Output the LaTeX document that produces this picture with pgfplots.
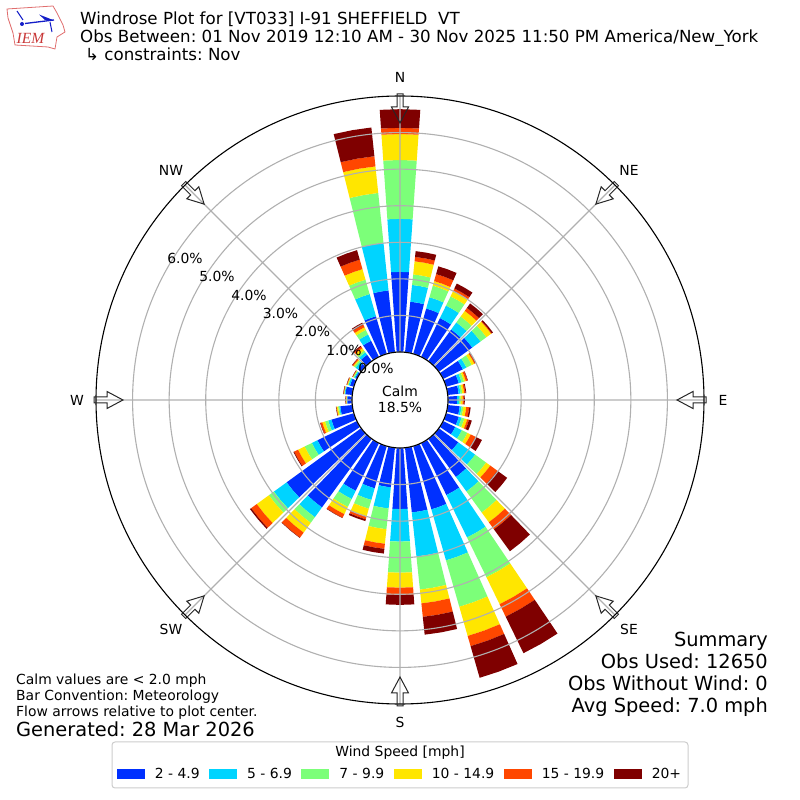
\documentclass[border=0pt]{standalone}
\usepackage{pgfplots}
\pgfplotsset{compat=1.18}
\usepgfplotslibrary{polar}
\usepackage{fontspec}
\setmainfont{DejaVu Sans}
\newfontfamily\logofont{Liberation Serif}
\frenchspacing
\definecolor{wa}{RGB}{0,48,255}
\definecolor{wb}{RGB}{0,212,255}
\definecolor{wc}{RGB}{124,255,121}
\definecolor{wd}{RGB}{255,230,0}
\definecolor{we}{RGB}{255,71,0}
\definecolor{wf}{RGB}{127,0,0}
\definecolor{gridc}{RGB}{176,176,176}
\definecolor{logored}{RGB}{224,110,110}
\definecolor{logoblue}{RGB}{20,30,200}
\newcommand\fs[1]{\fontsize{#1}{#1}\selectfont}
% direction / percent in each of the six speed classes
\def\rosedata{%
0/2.19/1.45/1.61/.71/.17/.51,
10/1.39/.46/.29/.36/.12/.16,
20/1.29/.32/.33/.13/.20/.22,
30/1.18/.38/.28/.17/.07/.15,
40/1.07/.24/.20/.19/.10/.15,
50/1.13/.28/.20/.16/.02/.04,
60/.60/.11/.16/.08/.03/.01,
70/.36/.08/.07/.05/.05/.01,
80/.30/.05/.05/.05/.04/.02,
90/.25/.05/.05/.05/.04/.02,
100/.33/.05/.05/.08/.08/.04,
110/.36/.08/.08/.08/.05/.08,
120/.37/.20/.17/.10/.15/.19,
130/.66/.57/.37/.14/.24/.33,
140/1.29/.49/.71/.33/.24/.74,
150/1.58/1.29/1.21/.82/.38/1.11,
160/1.80/1.45/1.32/.83/.29/.90,
170/1.78/1.21/.91/.38/.37/.49,
180/1.67/.89/.85/.41/.20/.27,
190/1.09/.58/.57/.40/.14/.13,
200/1.20/.33/.25/.22/.08/.05,
210/1.45/.25/.24/.22/.11/.01,
220/2.32/.33/.19/.33/.17/.01,
230/2.52/.43/.17/.41/.19/.04,
240/1.20/.17/.22/.20/.12/.02,
250/.64/.09/.09/.08/.05/.01,
260/.33/.03/.03/.04/.01/.01,
270/.13/.01/.01/.01/.01/.01,
280/.19/.02/.01/.01/.01/.01,
290/.11/.04/.02/.02/.01/.01,
300/.05/.03/.03/.01/.01/.01,
310/.11/.08/.05/.03/.03/.01,
320/.22/.08/.06/.08/.05/.03,
330/.49/.19/.14/.08/.08/.06,
340/1.07/.63/.41/.30/.27/.27,
350/1.70/1.31/1.37/.73/.28/.79}
\def\rbase{1.3125}
\gdef\serA{}\gdef\serB{}\gdef\serC{}\gdef\serD{}\gdef\serE{}\gdef\serF{}
% append one wedge: #1 series macro, #2 inner radius, #3 outer radius
\newcommand\addwedge[3]{%
  \xdef#1{#1(\al,#2)(\am,#2)(\ar,#2)(\ar,#3)(\am,#3)(\al,#3)(\al,#2)(\ar,nan)}}
\foreach \dd/\va/\vb/\vc/\vd/\ve/\vf in \rosedata {%
  \pgfmathsetmacro\am{90-\dd+360}%
  \pgfmathsetmacro\al{\am-4}%
  \pgfmathsetmacro\ar{\am+4}%
  \pgfmathsetmacro\ra{\rbase+\va}%
  \pgfmathsetmacro\rb{\ra+\vb}%
  \pgfmathsetmacro\rc{\rb+\vc}%
  \pgfmathsetmacro\rd{\rc+\vd}%
  \pgfmathsetmacro\re{\rd+\ve}%
  \pgfmathsetmacro\rf{\re+\vf}%
  \addwedge\serA{\rbase}{\ra}%
  \addwedge\serB{\ra}{\rb}%
  \addwedge\serC{\rb}{\rc}%
  \addwedge\serD{\rc}{\rd}%
  \addwedge\serE{\rd}{\re}%
  \addwedge\serF{\re}{\rf}%
}
\newcommand\plotser[3]{%
  \edef\tmpplot{\noexpand\addplot[draw=none,fill=#1] coordinates {#2};}\tmpplot
  \addlegendentry{#3}}
\begin{document}
\begin{tikzpicture}
\path[use as bounding box] (0pt,0pt) rectangle (800pt,800pt);
\begin{polaraxis}[
  at={(400pt,400pt)},anchor=center,
  scale only axis,width=608pt,height=608pt,
  xmin=0,xmax=360,ymin=0,ymax=8.3125,
  clip=false,axis on top,
  unbounded coords=jump,
  xtick={0,45,...,315},xticklabels={},
  ytick={1.3125,2.3125,3.3125,4.3125,5.3125,6.3125,7.3125},yticklabels={},
  grid=major,
  major grid style={draw=gridc,line width=1.1pt},
  tick style={draw=none},
  separate axis lines,
  x axis line style={draw=black,line width=1.1pt},
  y axis line style={draw=none},
  legend columns=6,
  legend cell align=left,
  legend style={at={(0.5,-0.1155)},anchor=center,draw=none,fill=none,
    font=\fs{13.9},inner sep=0pt,
    /tikz/every odd column/.append style={column sep=8pt},
    /tikz/every even column/.append style={column sep=7.5pt}},
  legend image code/.code={\fill[#1] (0pt,-5pt) rectangle (28pt,5pt);},
]
\plotser{wa}{\serA}{2 - 4.9}
\plotser{wb}{\serB}{5 - 6.9}
\plotser{wc}{\serC}{7 - 9.9}
\plotser{wd}{\serD}{10 - 14.9}
\plotser{we}{\serE}{15 - 19.9}
\plotser{wf}{\serF}{20+}
\end{polaraxis}
\begin{scope}[x=1pt,y=-1pt,shift={(0pt,800pt)}]
% hub
\draw[fill=white,draw=black,line width=1.1pt] (400,400) circle (48);
% flow arrows
\foreach \a in {0,45,...,315}{
  \draw[black!85,line width=1pt,line join=miter,rotate around={\a:(400,400)}]
    (397,94) -- (403,94) -- (403,107) -- (408.5,107) -- (400,123) -- (391.5,107) -- (397,107) -- cycle;
}
% compass labels
\foreach \t/\x/\y in {N/400/77,NE/629/170,E/723/400,SE/629/629,S/400/722,SW/171/629,W/77/400,NW/171/170}
  \node[font=\fs{13.9},inner sep=0pt] at (\x,\y) {\t};
% radial labels
\foreach \t/\x/\y in {0.0/376/368,1.0/344/350,2.0/312.5/331,3.0/280.5/313,4.0/249/295,5.0/217/276,6.0/185/258}
  \node[font=\fs{13.9},inner sep=0pt] at (\x,\y) {\t\%};
\node[font=\fs{13.9},inner sep=0pt] at (400,391) {Calm};
\node[font=\fs{13.9},inner sep=0pt] at (400,407) {18.5\%};
% titles
\node[font=\fs{16.67},inner sep=0pt,anchor=base west] at (80,25) {Windrose Plot for [VT033] I-91 SHEFFIELD\ \ VT};
\node[font=\fs{16.67},inner sep=0pt,anchor=base west] at (80,43) {Obs Between: 01 Nov 2019 12:10 AM - 30 Nov 2025 11:50 PM America/New\_York};
\node[font=\fs{16.67},inner sep=0pt,anchor=base west] at (85,61) {↳ constraints: Nov};
% logo
\draw[draw=logored,line width=.8pt,fill=white] (7,9) -- (53,6) -- (57,13) -- (63,25) -- (65,32) -- (57,37) -- (55,49) -- (48,47) -- (15,45) -- (13,33) -- (8,18) -- cycle;
\draw[logoblue,line width=1.3pt] (25,23.5) -- (54,20);
\draw[logoblue,line width=1pt] (17,11) -- (23,20);
\fill[logoblue] (39,14.5) -- (53,20) -- (45,20) -- cycle;
\draw[logoblue,line width=1pt] (50,22) -- (52,32);
\fill[logoblue] (22,24) circle (2);
\node[font=\logofont\itshape\fs{15.5},text=logored!60!red!85!black,inner sep=0pt] at (30.5,38.5) {IEM};
% bottom left notes
\node[font=\fs{13.9},inner sep=0pt,anchor=base west] at (16,685) {Calm values are < 2.0 mph};
\node[font=\fs{13.9},inner sep=0pt,anchor=base west] at (16,701) {Bar Convention: Meteorology};
\node[font=\fs{13.9},inner sep=0pt,anchor=base west] at (16,717) {Flow arrows relative to plot center.};
\node[font=\fs{19.4},inner sep=0pt,anchor=base west] at (16,737) {Generated: 28 Mar 2026};
% summary
\node[font=\fs{19.4},inner sep=0pt,anchor=base east] at (768,647) {Summary};
\node[font=\fs{19.4},inner sep=0pt,anchor=base east] at (768,669) {Obs Used: 12650};
\node[font=\fs{19.4},inner sep=0pt,anchor=base east] at (768,691) {Obs Without Wind: 0};
\node[font=\fs{19.4},inner sep=0pt,anchor=base east] at (768,713) {Avg Speed: 7.0 mph};
% legend frame and title
\draw[draw=black!20,line width=1pt,rounded corners=3pt] (112,742) rectangle (688,788);
\node[font=\fs{13.9},inner sep=0pt] at (400,753) {Wind Speed [mph]};
\end{scope}
\end{tikzpicture}
\end{document}
